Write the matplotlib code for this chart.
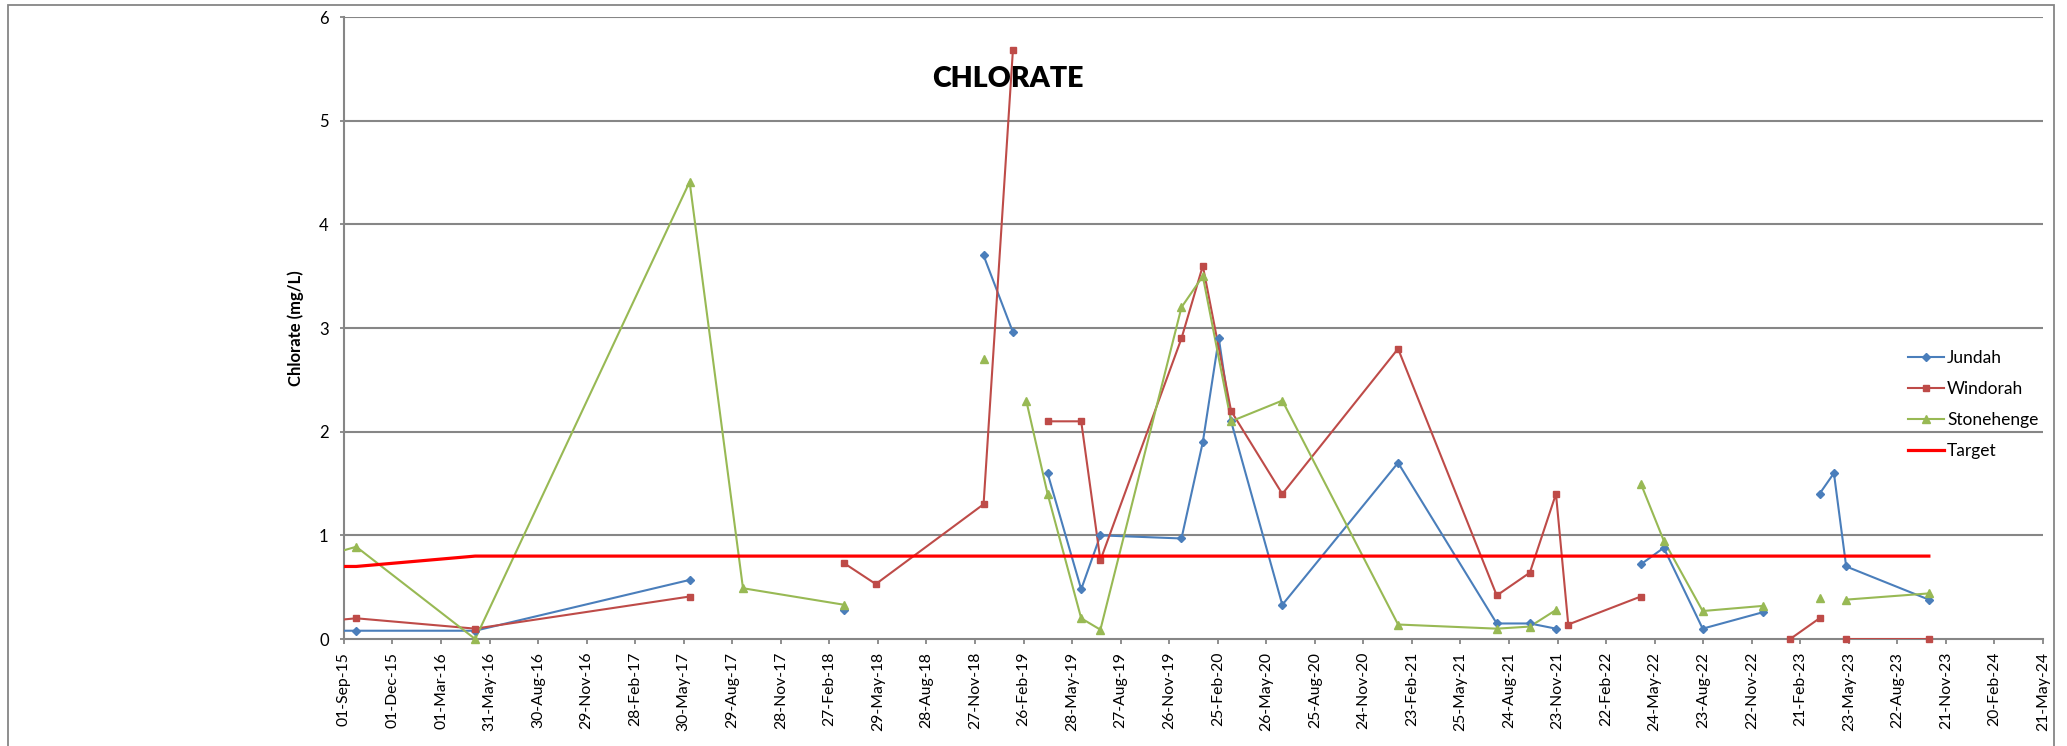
import numpy as np
import pandas as pd
import matplotlib
matplotlib.use("Agg")
import matplotlib.pyplot as plt
import matplotlib.dates as mdates
from matplotlib.patches import Rectangle
from matplotlib.lines import Line2D

plt.rcParams['font.family'] = ['Lato', 'DejaVu Sans']

# ---- data (mg/L); None = break in the line ----
jundah_dates = ['2015-06-01', '2015-09-24', '2016-05-04', '2017-06-10', '2017-09-18', '2018-03-27',
                '2018-05-25', '2018-12-13', '2019-02-06', '2019-03-03', '2019-04-12', '2019-06-14',
                '2019-07-20', '2019-12-19', '2020-01-28', '2020-02-27', '2020-03-21', '2020-06-25',
                '2021-01-28', '2021-08-01', '2021-10-02', '2021-11-20', '2021-12-13', '2022-04-28',
                '2022-06-10', '2022-08-22', '2022-12-14', '2023-02-02', '2023-03-29', '2023-04-25',
                '2023-05-18', '2023-10-20']
jundah_vals = [0.08, 0.08, 0.08, 0.57, None, 0.28,
               None, 3.7, 2.96, None, 1.6, 0.48,
               1.0, 0.97, 1.9, 2.9, 2.1, 0.33,
               1.7, 0.15, 0.15, 0.1, None, 0.72,
               0.88, 0.1, 0.26, None, 1.4, 1.6,
               0.7, 0.38]

windorah_dates = ['2015-06-01', '2015-09-24', '2016-05-04', '2017-06-10', '2017-09-18', '2018-03-27',
                  '2018-05-25', '2018-12-13', '2019-02-06', '2019-03-03', '2019-04-12', '2019-06-14',
                  '2019-07-20', '2019-12-19', '2020-01-28', '2020-03-21', '2020-06-25', '2021-01-28',
                  '2021-08-01', '2021-10-02', '2021-11-20', '2021-12-13', '2022-04-28', '2022-06-10',
                  '2023-02-02', '2023-03-29', '2023-04-25', '2023-05-18', '2023-10-20']
windorah_vals = [0.145, 0.2, 0.1, 0.41, None, 0.73,
                 0.53, 1.3, 5.68, None, 2.1, 2.1,
                 0.76, 2.9, 3.6, 2.2, 1.4, 2.8,
                 0.42, 0.64, 1.4, 0.14, 0.41, None,
                 0.0, 0.2, None, 0.0, 0.0]

stonehenge_dates = ['2015-06-01', '2015-09-24', '2016-05-04', '2017-06-10', '2017-09-18', '2018-03-27',
                    '2018-05-25', '2018-12-13', '2019-02-06', '2019-03-03', '2019-04-12', '2019-06-14',
                    '2019-07-20', '2019-12-19', '2020-01-28', '2020-03-21', '2020-06-25', '2021-01-28',
                    '2021-08-01', '2021-10-02', '2021-11-20', '2021-12-13', '2022-04-28', '2022-06-10',
                    '2022-08-22', '2022-12-14', '2023-02-02', '2023-03-29', '2023-04-25', '2023-05-18',
                    '2023-10-20']
stonehenge_vals = [0.72, 0.89, 0.0, 4.41, 0.49, 0.33,
                   None, 2.7, None, 2.3, 1.4, 0.2,
                   0.09, 3.2, 3.5, 2.1, 2.3, 0.14,
                   0.1, 0.12, 0.28, None, 1.5, 0.95,
                   0.27, 0.32, None, 0.4, None, 0.38,
                   0.44]

target_dates = ['2015-06-01', '2015-09-24', '2016-05-04', '2023-10-20']
target_vals = [0.7, 0.7, 0.8, 0.8]

x_start = '2015-09-01'
x_end = '2024-05-21'
tick_step_days = 91
y_ticks = [0, 1, 2, 3, 4, 5, 6]


def to_arr(d, v):
    return (pd.to_datetime(d).to_numpy(),
            np.array([np.nan if x is None else x for x in v], dtype=float))


fig = plt.figure(figsize=(20.67, 7.46), dpi=100)
ax = fig.add_axes([0.1664, 0.1434, 0.9884 - 0.1664, 0.9772 - 0.1434])

# outer chart border
fig.patches.append(Rectangle((8 / 2067, -0.05), (2054 - 8) / 2067, 1.05 - 5 / 746,
                             transform=fig.transFigure, fill=False,
                             edgecolor='#868686', linewidth=1.3, zorder=0))

grid_c = '#868686'
for yv in y_ticks[1:]:
    ax.axhline(yv, color=grid_c, linewidth=1.5, zorder=1)

x0 = np.datetime64(pd.Timestamp(x_start))
series = [
    (jundah_dates, jundah_vals, '#4A7EBB', 'D', 3.6, 'Jundah'),
    (windorah_dates, windorah_vals, '#BE4B48', 's', 5, 'Windorah'),
    (stonehenge_dates, stonehenge_vals, '#98B954', '^', 5.5, 'Stonehenge'),
]
handles = []
for d, v, c, m, ms, name in series:
    xd, yd = to_arr(d, v)
    ax.plot(xd, yd, color=c, lw=1.5, zorder=3)
    keep = xd >= x0
    ax.plot(xd[keep], yd[keep], linestyle='none', color=c, marker=m, ms=ms,
            zorder=4, clip_on=False)
    handles.append(Line2D([], [], color=c, lw=1.5, marker=m, ms=ms, label=name))

xd, yd = to_arr(target_dates, target_vals)
ax.plot(xd, yd, color='#FF0000', lw=2.3, zorder=5)
handles.append(Line2D([], [], color='#FF0000', lw=2.3, label='Target'))

ax.set_xlim(pd.Timestamp(x_start), pd.Timestamp(x_end))
ax.set_ylim(0, 6)
ax.set_yticks(y_ticks)
ticks = pd.date_range(x_start, x_end, freq=f'{tick_step_days}D')
ax.set_xticks(ticks)
ax.xaxis.set_major_formatter(mdates.DateFormatter('%d-%b-%y'))
ax.tick_params(axis='x', rotation=90, labelsize=11.3, length=3.8, width=1.3,
               color=grid_c, pad=5.5, labelcolor='#000000')
ax.tick_params(axis='y', labelsize=12, length=3, width=1.3, color=grid_c, pad=8)
for lbl in ax.get_xticklabels():
    lbl.set_verticalalignment('top')

for s in ['top', 'right']:
    ax.spines[s].set_visible(False)
for s in ['left', 'bottom']:
    ax.spines[s].set_color(grid_c)
    ax.spines[s].set_linewidth(1.5)
    ax.spines[s].set_zorder(2)

ax.set_ylabel('Chlorate (mg/L)', fontsize=12, fontweight='bold')
ax.yaxis.set_label_coords(-0.0235, 0.5)

ax.text(0.391, 0.900, 'CHLORATE', transform=ax.transAxes, ha='center', va='center',
        fontsize=20.5, fontweight='heavy')

ax.legend(handles=handles, loc='center left', bbox_to_anchor=(0.9205, 0.377), frameon=False,
          fontsize=12.5, handlelength=2.05, handletextpad=0.2, labelspacing=0.85,
          borderaxespad=0, borderpad=0)

fig.savefig('out.png', dpi=100)
